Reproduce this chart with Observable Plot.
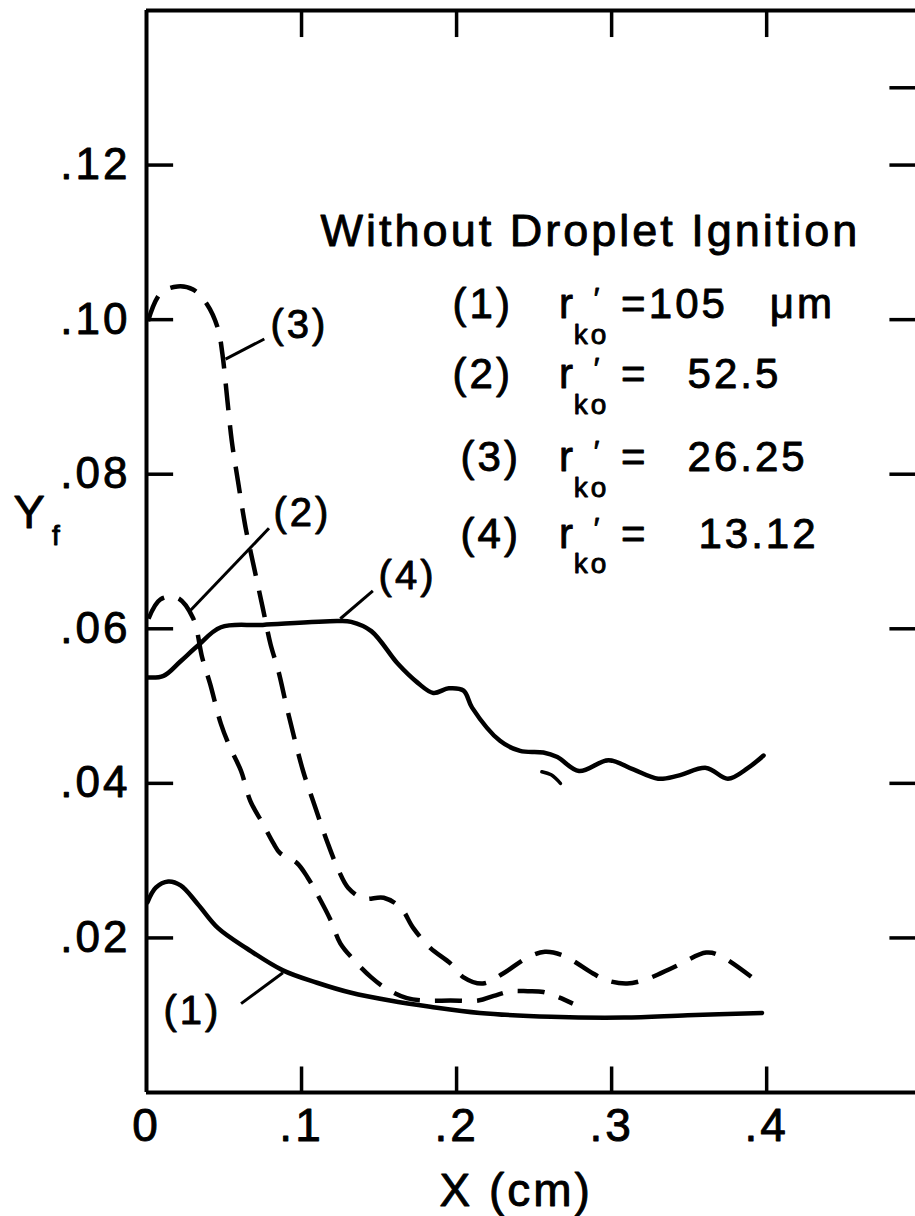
<!DOCTYPE html>
<html><head><meta charset="utf-8">
<script src="https://cdn.jsdelivr.net/npm/d3@7"></script>
<script src="https://cdn.jsdelivr.net/npm/@observablehq/plot@0.6"></script>
<style>
body{margin:0;background:#fff}
#chart svg{display:block}
#chart svg text{letter-spacing:3px;stroke:#000;stroke-width:0.9px;stroke-linejoin:round}
</style>
</head><body><div id="chart"></div>
<script>
// ---- data ----
const xTicks = [0, 0.1, 0.2, 0.3, 0.4];
const yTicks = [0.02, 0.04, 0.06, 0.08, 0.10, 0.12];
const rightTicks = [0.02, 0.04, 0.06, 0.08, 0.10, 0.12, 0.13];
const topTicks = [0.1, 0.2, 0.3, 0.4];

// (1) r'ko = 105 um  (solid)
const c1x = [0.0006,0.006,0.014,0.022,0.033,0.046,0.065,0.088,0.11,0.132,0.157,0.183,0.215,0.261,0.308,0.349,0.397];
const c1y = [0.0246,0.0265,0.0273,0.0268,0.0244,0.0213,0.0186,0.0158,0.0142,0.0129,0.0119,0.0111,0.0103,0.0098,0.0097,0.0100,0.0103];
// (2) r'ko = 52.5 (dashed)
const c2x = [0.0013,0.009,0.02,0.03,0.036,0.041,0.048,0.054,0.061,0.067,0.075,0.082,0.086,0.097,0.104,0.11,0.119,0.125,0.134,0.145,0.155,0.168,0.179,0.196,0.214,0.224,0.235,0.246,0.256,0.266,0.275];
const c2y = [0.0613,0.0638,0.0640,0.0614,0.0562,0.0529,0.0477,0.0446,0.0416,0.0377,0.0348,0.0322,0.0310,0.0297,0.0278,0.0257,0.0222,0.0193,0.0171,0.0149,0.0134,0.0122,0.0119,0.0119,0.0119,0.0125,0.0131,0.0131,0.0130,0.0123,0.0115];
// (3) r'ko = 26.25 (dashed)
const c3x = [0.001,0.009,0.02,0.03,0.039,0.046,0.049,0.052,0.055,0.059,0.064,0.068,0.075,0.08,0.085,0.091,0.101,0.108,0.117,0.124,0.13,0.14,0.153,0.164,0.172,0.183,0.196,0.2045,0.217,0.23,0.246,0.257,0.269,0.288,0.297,0.31,0.323,0.34,0.361,0.37,0.395];
const c3y = [0.0998,0.1034,0.1043,0.1039,0.1020,0.0989,0.0955,0.0899,0.0843,0.0791,0.0730,0.0692,0.0627,0.0580,0.0546,0.0494,0.0416,0.0374,0.0322,0.0287,0.0265,0.0251,0.0252,0.0239,0.0213,0.0187,0.0167,0.0149,0.0141,0.0154,0.0175,0.0182,0.0177,0.0154,0.0145,0.0141,0.0147,0.0162,0.0181,0.0177,0.0142];
// (4) r'ko = 13.12 (solid)
const c4x = [0.0006,0.011,0.022,0.033,0.048,0.075,0.123,0.132,0.145,0.162,0.175,0.185,0.195,0.2045,0.21,0.228,0.241,0.256,0.265,0.279,0.298,0.314,0.33,0.343,0.361,0.375,0.388,0.398];
const c4y = [0.0537,0.0539,0.0558,0.0578,0.0602,0.0605,0.0610,0.0609,0.0597,0.0555,0.0530,0.0517,0.0523,0.0520,0.0498,0.0455,0.0442,0.0440,0.0434,0.0416,0.0430,0.0418,0.0406,0.0410,0.0420,0.0406,0.0420,0.0436];
// stray fragment below curve (4)
const fragX = [0.255,0.261,0.267];
const fragY = [0.0415,0.0411,0.0400];

const curveTags = ["(1)","(2)","(3)","(4)"];
const legendValues = ["105","52.5","26.25","13.12"];
const unitText = "\u03bcm";
const titleText = "Without Droplet Ignition";
const xLabel = "X (cm)";
const yLabel = "Y";
const ySub = "f";

// ---- layout (annotation anchors in data units) ----
const font = "'Liberation Sans', Arial, sans-serif";
const pts = (xs, ys) => xs.map((x, i) => ({x, y: ys[i]}));
const fmtX = d => d === 0 ? "0" : d3.format(".1f")(d).replace(/^0/, "");
const fmtY = d => d === 0 ? "0" : d3.format(".2f")(d).replace(/^0/, "");
const XMAX = 0.496, YMAX = 0.14;

const rowY = [0.1002, 0.0911, 0.0804, 0.0705];
const tagX = [0.1974, 0.1974, 0.2026, 0.2026];
const valX = [0.324, 0.349, 0.349, 0.356];
const legendRows = curveTags.map((t, i) => ({tag: t, val: legendValues[i], y: rowY[i], tx: tagX[i], vx: valX[i]}));

const curveLabels = [
  {t: curveTags[0], x: 0.011, y: 0.0088},
  {t: curveTags[1], x: 0.0819, y: 0.0733},
  {t: curveTags[2], x: 0.080, y: 0.0976},
  {t: curveTags[3], x: 0.1497, y: 0.0652}
];
const leaders = [
  {x1: 0.061, y1: 0.0115, x2: 0.088, y2: 0.0155},
  {x1: 0.028, y1: 0.0623, x2: 0.079, y2: 0.0730},
  {x1: 0.051, y1: 0.0949, x2: 0.076, y2: 0.0975},
  {x1: 0.125, y1: 0.0613, x2: 0.146, y2: 0.0649}
];

const lineStyle = {x: "x", y: "y", stroke: "#000", strokeWidth: 4.5, curve: "catmull-rom", strokeLinecap: "round", strokeLinejoin: "round"};
const dashStyle = {...lineStyle, strokeDasharray: "27,15", strokeLinecap: "butt"};
const txt = (size) => ({fill: "#000", fontSize: size, textAnchor: "start", lineAnchor: "bottom"});

const chart = Plot.plot({
  width: 915, height: 1216,
  marginLeft: 146, marginRight: 0, marginTop: 10, marginBottom: 124,
  style: {fontFamily: font, background: "#fff", color: "#000", overflow: "visible"},
  x: {domain: [0, XMAX]},
  y: {domain: [0, YMAX]},
  marks: [
    Plot.axisX({ticks: xTicks, tickSize: 0, tickPadding: 16, fontSize: 46, tickFormat: fmtX, label: null}),
    Plot.axisY({ticks: yTicks, tickSize: 0, tickPadding: 16, fontSize: 44, tickFormat: fmtY, label: null}),
    // frame
    Plot.ruleY([0], {stroke: "#000", strokeWidth: 4}),
    Plot.ruleY([YMAX], {stroke: "#000", strokeWidth: 4}),
    Plot.ruleX([0], {stroke: "#000", strokeWidth: 4}),
    // inward ticks
    Plot.ruleY(yTicks, {x1: 0, x2: 0.0175, stroke: "#000", strokeWidth: 3.5}),
    Plot.ruleY(rightTicks, {x1: XMAX - 0.0165, x2: XMAX, stroke: "#000", strokeWidth: 3.5}),
    Plot.ruleX(topTicks, {y1: YMAX - 0.0035, y2: YMAX, stroke: "#000", strokeWidth: 3.5}),
    Plot.ruleX(topTicks, {y1: 0, y2: 0.0033, stroke: "#000", strokeWidth: 3.5}),
    // curves
    Plot.line(pts(c1x, c1y), lineStyle),
    Plot.line(pts(c4x, c4y), lineStyle),
    Plot.line(pts(c2x, c2y), dashStyle),
    Plot.line(pts(c3x, c3y), dashStyle),
    Plot.line(pts(fragX, fragY), {...lineStyle, strokeWidth: 3.5}),
    // leader lines
    Plot.link(leaders, {x1: "x1", y1: "y1", x2: "x2", y2: "y2", stroke: "#000", strokeWidth: 3}),
    // curve labels
    Plot.text(curveLabels, {x: "x", y: "y", text: "t", ...txt(40)}),
    // legend
    Plot.text([titleText], {x: 0.1123, y: 0.1095, text: d => d, ...txt(45)}),
    Plot.text(legendRows, {x: "tx", y: "y", text: "tag", ...txt(42)}),
    Plot.text(legendRows, {x: 0.266, y: "y", text: () => "r", ...txt(42)}),
    Plot.text(legendRows, {x: 0.2885, y: d => d.y + 0.0013, text: () => "\u2032", ...txt(30)}),
    Plot.text(legendRows, {x: 0.2755, y: d => d.y - 0.0033, text: () => "ko", ...txt(28)}),
    Plot.text(legendRows, {x: 0.306, y: "y", text: () => "=", ...txt(42)}),
    Plot.text(legendRows, {x: "vx", y: "y", text: "val", ...txt(42)}),
    Plot.text([unitText], {x: 0.402, y: rowY[0], text: d => d, ...txt(42)}),
    // axis titles
    Plot.text([xLabel], {x: 0.189, y: -0.0147, text: d => d, ...txt(46)}),
    Plot.text([yLabel], {x: -0.0858, y: 0.0731, text: d => d, ...txt(47)}),
    Plot.text([ySub], {x: -0.0610, y: 0.0708, text: d => d, ...txt(28)})
  ]
});
document.getElementById("chart").append(chart);
</script>
</body></html>
